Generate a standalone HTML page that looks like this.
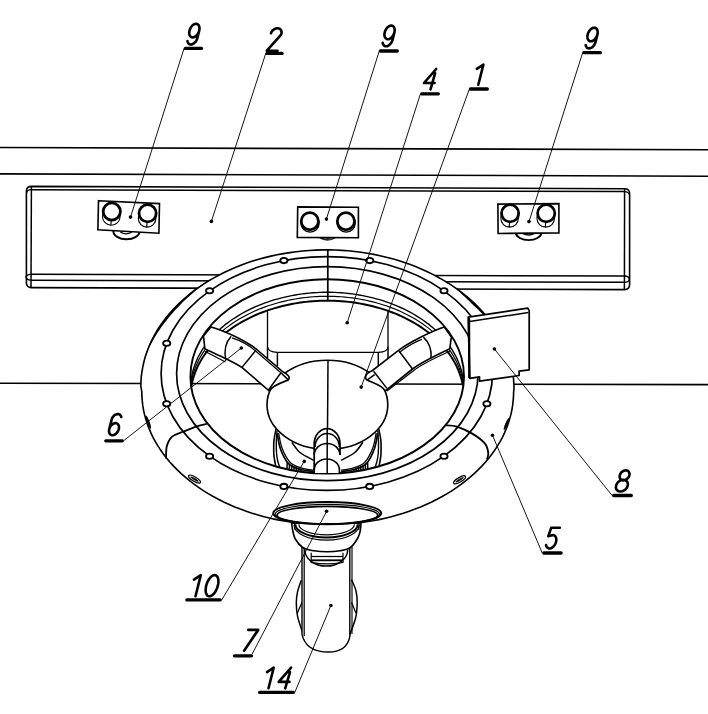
<!DOCTYPE html>
<html><head><meta charset="utf-8"><style>
html,body{margin:0;padding:0;background:#fff;}
svg{display:block;}
</style></head><body>
<svg width="708" height="714" viewBox="0 0 708 714">
<rect width="708" height="714" fill="#fff"/>
<line x1="0.0" y1="147.5" x2="708.0" y2="149.8" stroke="#000" stroke-width="1.61"/>
<line x1="0.0" y1="173.9" x2="708.0" y2="176.2" stroke="#000" stroke-width="1.61"/>
<line x1="0.0" y1="383.3" x2="150.0" y2="383.5" stroke="#000" stroke-width="1.61"/>
<line x1="500.0" y1="384.3" x2="708.0" y2="384.6" stroke="#000" stroke-width="1.61"/>
<path d="M31.4,186.4 L624.6,188.7 Q629.6,188.7 629.6,193.7 L629.6,284.6 Q629.6,289.6 624.6,289.6 L31.4,287.6 Q26.4,287.6 26.4,282.6 L26.4,191.4 Q26.4,186.4 31.4,186.4Z" fill="#fff" stroke="#000" stroke-width="1.61" />
<line x1="31.4" y1="186.4" x2="31.0" y2="287.6" stroke="#000" stroke-width="1.49"/>
<line x1="624.6" y1="188.6" x2="624.4" y2="289.6" stroke="#000" stroke-width="1.49"/>
<line x1="31.4" y1="189.7" x2="624.6" y2="191.6" stroke="#000" stroke-width="1.49"/>
<line x1="31.2" y1="274.2" x2="624.5" y2="276.0" stroke="#000" stroke-width="1.49"/>
<line x1="31.2" y1="280.2" x2="624.5" y2="282.3" stroke="#000" stroke-width="1.49"/>
<path d="M624.5,276.0 Q629.3,276.3 629.3,279.2 Q629.0,282.3 624.5,282.3" fill="none" stroke="#000" stroke-width="1.38" />
<path d="M31.2,274.2 Q26.0,274.6 26.0,277.2 Q26.4,280.2 31.2,280.2" fill="none" stroke="#000" stroke-width="1.38" />
<path d="M31.4,189.7 Q27.5,189.6 26.6,192.5" fill="none" stroke="#000" stroke-width="1.15" />
<path d="M624.6,191.6 Q628.5,191.8 629.4,194.5" fill="none" stroke="#000" stroke-width="1.15" />
<path d="M113.3,231.0 A13.2,8.3 0 0 0 139.7,231.0" fill="#fff" stroke="#000" stroke-width="1.9"/>
<path d="M120.3,232.0 Q126.1,235.6 131.8,232.0" fill="none" stroke="#000" stroke-width="1.3"/>
<path d="M515.6,232.5 A13.1,8.4 0 0 0 541.7,232.5" fill="#fff" stroke="#000" stroke-width="1.9"/>
<path d="M522.7,233.5 Q528.7,236.5 534.7,233.5" fill="none" stroke="#000" stroke-width="1.3"/>
<path d="M318.7,237.3 Q327.5,243.2 336.2,237.3 Z" fill="#000" stroke="#000" stroke-width="0.8"/>
<path d="M323.5,238.4 Q328,239.6 332.4,238.4" fill="none" stroke="#888" stroke-width="0.8"/>
<path d="M98.5,200.7 L159.5,203.6 L158.9,233.2 L97.9,229.8Z" fill="#fff" stroke="#000" stroke-width="1.61" />
<circle cx="111.3" cy="216.5" r="8.8" fill="none" stroke="#000" stroke-width="1.1"/>
<line x1="111.3" y1="220.0" x2="110.9" y2="225.3" stroke="#000" stroke-width="1.15"/>
<circle cx="111.8" cy="211.5" r="8.6" fill="#fff" stroke="#000" stroke-width="2.8"/>
<circle cx="147.1" cy="218.3" r="8.8" fill="none" stroke="#000" stroke-width="1.1"/>
<line x1="147.1" y1="221.8" x2="146.7" y2="227.1" stroke="#000" stroke-width="1.15"/>
<circle cx="147.6" cy="213.3" r="8.6" fill="#fff" stroke="#000" stroke-width="2.8"/>
<path d="M297.7,206.9 L358.4,207.2 L358.4,237.7 L297.3,237.4Z" fill="#fff" stroke="#000" stroke-width="1.61" />
<circle cx="310.1" cy="223.2" r="9.0" fill="none" stroke="#000" stroke-width="1.3"/>
<circle cx="309.8" cy="221.2" r="8.6" fill="#fff" stroke="#000" stroke-width="2.8"/>
<circle cx="346.2" cy="223.2" r="9.0" fill="none" stroke="#000" stroke-width="1.3"/>
<circle cx="345.9" cy="221.2" r="8.6" fill="#fff" stroke="#000" stroke-width="2.8"/>
<path d="M497.9,204.1 L558.9,203.6 L558.9,232.9 L498.1,233.5Z" fill="#fff" stroke="#000" stroke-width="1.61" />
<circle cx="509.6" cy="218.3" r="8.8" fill="none" stroke="#000" stroke-width="1.1"/>
<line x1="509.6" y1="221.8" x2="509.2" y2="227.1" stroke="#000" stroke-width="1.15"/>
<circle cx="510.1" cy="213.3" r="8.6" fill="#fff" stroke="#000" stroke-width="2.8"/>
<circle cx="545.7" cy="218.3" r="8.8" fill="none" stroke="#000" stroke-width="1.1"/>
<line x1="545.7" y1="221.8" x2="545.3" y2="227.1" stroke="#000" stroke-width="1.15"/>
<circle cx="546.2" cy="213.3" r="8.6" fill="#fff" stroke="#000" stroke-width="2.8"/>
<line x1="150.0" y1="383.5" x2="500.0" y2="384.3" stroke="#000" stroke-width="1.61"/>
<path d="M267.5,290 L267.5,346.8 Q268,352.3 277.4,352.3 L378.3,352.3 Q387.8,352.3 388,346.8 L388,290 Z" fill="#fff" stroke="#000" stroke-width="1.3"/>
<line x1="267.5" y1="346.8" x2="267.5" y2="358.0" stroke="#000" stroke-width="1.49"/>
<line x1="388.0" y1="346.8" x2="388.0" y2="358.0" stroke="#000" stroke-width="1.49"/>
<line x1="277.4" y1="352.3" x2="277.4" y2="366.0" stroke="#000" stroke-width="1.49"/>
<line x1="378.3" y1="352.3" x2="378.3" y2="366.0" stroke="#000" stroke-width="1.49"/>
<path d="M276.0,429.2 C275.7,431.0 274.4,435.9 274.0,440.0 C273.6,444.1 273.7,450.3 273.8,453.6 C273.9,456.9 274.2,457.7 274.6,460.0 C275.0,462.3 275.7,466.2 275.9,467.5" fill="none" stroke="#000" stroke-width="1.61" />
<path d="M378.8,429.2 C379.1,431.0 380.4,435.9 380.8,440.0 C381.2,444.1 381.1,450.3 381.0,453.6 C380.9,456.9 380.5,457.7 380.2,460.0 C379.8,462.3 379.1,466.2 378.9,467.5" fill="none" stroke="#000" stroke-width="1.61" />
<path d="M277.0,431.0 C276.9,432.8 276.4,438.2 276.3,442.0 C276.2,445.8 276.3,450.7 276.6,454.0 C276.9,457.3 277.4,459.6 278.0,462.0 C278.6,464.4 279.8,467.4 280.1,468.5" fill="none" stroke="#000" stroke-width="1.38" />
<path d="M377.8,431.0 C377.9,432.8 378.4,438.2 378.5,442.0 C378.6,445.8 378.5,450.7 378.2,454.0 C377.9,457.3 377.4,459.6 376.8,462.0 C376.2,464.4 375.0,467.4 374.7,468.5" fill="none" stroke="#000" stroke-width="1.38" />
<path d="M277.2,433.4 C277.8,436.0 278.6,443.9 280.5,449.0 C282.4,454.1 285.2,460.3 288.5,463.7 C291.8,467.1 295.8,468.0 300.0,469.3 C304.2,470.6 311.4,471.2 313.7,471.6" fill="none" stroke="#000" stroke-width="1.72" />
<path d="M377.6,433.4 C377.0,436.0 376.2,443.9 374.3,449.0 C372.4,454.1 369.5,460.3 366.3,463.7 C363.0,467.1 359.0,468.0 354.8,469.3 C350.6,470.6 343.4,471.2 341.1,471.6" fill="none" stroke="#000" stroke-width="1.72" />
<path d="M278.6,433.0 C279.2,435.5 280.1,443.1 282.0,448.0 C283.9,452.9 286.8,458.9 290.0,462.2 C293.2,465.5 297.1,466.5 301.0,467.8 C304.9,469.1 311.6,469.8 313.7,470.2" fill="none" stroke="#000" stroke-width="1.26" />
<path d="M376.2,433.0 C375.6,435.5 374.7,443.1 372.8,448.0 C370.9,452.9 368.0,458.9 364.8,462.2 C361.6,465.5 357.7,466.5 353.8,467.8 C349.8,469.1 343.2,469.8 341.1,470.2" fill="none" stroke="#000" stroke-width="1.26" />
<path d="M291.9,442.3 C293.2,444.0 296.4,449.5 300.0,452.5 C303.6,455.5 311.4,459.0 313.7,460.3" fill="none" stroke="#000" stroke-width="1.61" />
<path d="M362.9,442.3 C361.5,444.0 358.4,449.5 354.8,452.5 C351.2,455.5 343.4,459.0 341.1,460.3" fill="none" stroke="#000" stroke-width="1.61" />
<line x1="287.2" y1="462.6" x2="286.9" y2="473.0" stroke="#000" stroke-width="1.49"/>
<line x1="367.6" y1="462.6" x2="367.9" y2="473.0" stroke="#000" stroke-width="1.49"/>
<line x1="289.5" y1="463.7" x2="289.2" y2="473.0" stroke="#000" stroke-width="1.49"/>
<line x1="365.3" y1="463.7" x2="365.6" y2="473.0" stroke="#000" stroke-width="1.49"/>
<line x1="291.8" y1="464.8" x2="291.5" y2="473.0" stroke="#000" stroke-width="1.49"/>
<line x1="363.0" y1="464.8" x2="363.3" y2="473.0" stroke="#000" stroke-width="1.49"/>
<line x1="294.1" y1="465.9" x2="293.8" y2="473.0" stroke="#000" stroke-width="1.49"/>
<line x1="360.7" y1="465.9" x2="361.0" y2="473.0" stroke="#000" stroke-width="1.49"/>
<line x1="296.4" y1="467.0" x2="296.1" y2="473.0" stroke="#000" stroke-width="1.49"/>
<line x1="358.4" y1="467.0" x2="358.7" y2="473.0" stroke="#000" stroke-width="1.49"/>
<line x1="298.7" y1="468.2" x2="298.4" y2="473.0" stroke="#000" stroke-width="1.49"/>
<line x1="356.1" y1="468.2" x2="356.4" y2="473.0" stroke="#000" stroke-width="1.49"/>
<line x1="301.0" y1="469.3" x2="300.7" y2="473.0" stroke="#000" stroke-width="1.49"/>
<line x1="353.8" y1="469.3" x2="354.1" y2="473.0" stroke="#000" stroke-width="1.49"/>
<path d="M140.8,385.9 L141.0,381.1 L141.3,376.3 L142.0,371.5 L142.8,366.8 L143.9,362.0 L145.1,357.3 L146.7,352.6 L148.4,348.0 L150.3,343.4 L152.5,338.9 L154.9,334.4 L157.4,330.0 L160.2,325.7 L163.2,321.5 L166.4,317.3 L169.8,313.2 L173.4,309.2 L177.2,305.3 L181.1,301.5 L185.3,297.8 L189.6,294.2 L194.0,290.7 L198.7,287.4 L203.5,284.1 L208.4,281.0 L213.5,278.1 L218.7,275.2 L224.1,272.5 L229.6,269.9 L235.2,267.5 L240.9,265.2 L246.7,263.1 L252.6,261.1 L258.7,259.3 L264.8,257.6 L270.9,256.1 L277.2,254.8 L283.5,253.6 L289.8,252.6 L296.2,251.7 L302.7,251.0 L309.1,250.5 L315.6,250.1 L322.1,249.9 L328.6,249.9 L335.2,250.0 L341.7,250.4 L348.1,250.8 L354.6,251.5 L361.0,252.3 L367.4,253.3 L373.8,254.4 L380.0,255.7 L386.2,257.2 L392.4,258.8 L398.5,260.6 L404.4,262.5 L410.3,264.6 L416.1,266.8 L421.8,269.2 L427.3,271.7 L432.8,274.4 L438.1,277.2 L443.3,280.1 L448.3,283.2 L453.2,286.4 L457.9,289.7 L462.5,293.2 L466.9,296.7 L471.1,300.4 L475.2,304.2 L479.1,308.0 L482.8,312.0 L486.3,316.1 L489.6,320.2 L492.7,324.5 L495.7,328.8 L498.4,333.1 L500.9,337.6 L503.2,342.1 L505.2,346.7 L507.1,351.3 L508.8,355.9 L510.2,360.6 L511.4,365.4 L512.4,370.1 L513.1,374.9 L513.6,379.7 L513.9,384.5 L514.0,389.3 L513.6,391.8 L513.5,396.4 L513.1,401.1 L512.6,405.7 L511.8,410.3 L510.8,414.9 L509.5,419.4 L508.1,424.0 L506.4,428.4 L504.5,432.9 L502.4,437.3 L500.1,441.6 L497.5,445.9 L494.8,450.1 L491.8,454.2 L488.7,458.2 L485.4,462.2 L481.8,466.1 L478.1,469.9 L474.2,473.6 L470.1,477.2 L465.9,480.7 L461.4,484.1 L456.8,487.4 L452.1,490.6 L447.2,493.6 L442.2,496.5 L437.0,499.3 L431.7,502.0 L426.2,504.5 L420.6,506.9 L415.0,509.1 L409.2,511.2 L403.3,513.2 L397.3,515.0 L391.3,516.7 L385.1,518.2 L378.9,519.6 L372.7,520.8 L366.4,521.8 L360.0,522.7 L353.6,523.4 L347.1,524.0 L340.7,524.4 L334.2,524.6 L327.7,524.7 L321.2,524.6 L314.7,524.4 L308.3,524.0 L301.8,523.4 L295.4,522.7 L289.0,521.8 L282.7,520.8 L276.5,519.6 L270.3,518.2 L264.1,516.7 L258.1,515.0 L252.1,513.2 L246.2,511.2 L240.4,509.1 L234.8,506.9 L229.2,504.5 L223.7,502.0 L218.4,499.3 L213.2,496.5 L208.2,493.6 L203.3,490.6 L198.6,487.4 L194.0,484.1 L189.5,480.7 L185.3,477.2 L181.2,473.6 L177.3,469.9 L173.6,466.1 L170.0,462.2 L166.7,458.2 L163.6,454.2 L160.6,450.1 L157.9,445.9 L155.3,441.6 L153.0,437.3 L150.9,432.9 L149.0,428.4 L147.3,424.0 L145.9,419.4 L144.6,414.9 L143.6,410.3 L142.8,405.7 L142.3,401.1 L141.9,396.4 L141.8,391.8Z M459.9,400.0 L459.1,402.3 L458.1,404.6 L457.1,406.8 L456.1,409.0 L455.0,411.2 L453.8,413.3 L452.5,415.4 L451.2,417.4 L449.9,419.4 L448.5,421.4 L447.0,423.3 L445.6,425.2 L444.0,427.0 L442.5,428.7 L440.9,430.5 L439.3,432.1 L437.7,433.8 L436.0,435.3 L434.3,436.9 L432.6,438.4 L430.9,439.8 L429.2,441.2 L427.4,442.6 L425.7,443.9 L424.0,445.1 L422.2,446.3 L420.5,447.5 L418.7,448.7 L417.0,449.8 L415.2,450.8 L413.5,451.8 L411.7,452.8 L410.0,453.8 L408.3,454.7 L406.6,455.6 L404.9,456.4 L403.2,457.2 L401.5,458.0 L399.8,458.8 L398.1,459.5 L396.5,460.2 L394.8,460.9 L393.2,461.5 L391.6,462.2 L390.0,462.8 L388.4,463.3 L386.8,463.9 L385.2,464.4 L383.7,464.9 L382.1,465.4 L380.6,465.9 L379.0,466.4 L377.5,466.8 L376.0,467.2 L374.5,467.6 L373.1,468.0 L371.6,468.3 L370.1,468.7 L368.7,469.0 L367.2,469.3 L365.8,469.7 L364.4,469.9 L363.0,470.2 L361.6,470.5 L360.2,470.7 L358.8,471.0 L357.4,471.2 L356.1,471.4 L354.7,471.6 L353.3,471.8 L352.0,472.0 L350.6,472.2 L349.3,472.3 L348.0,472.5 L346.7,472.6 L345.3,472.7 L344.0,472.9 L342.7,473.0 L341.4,473.1 L340.1,473.2 L338.8,473.3 L337.5,473.3 L336.2,473.4 L334.9,473.4 L333.6,473.5 L332.3,473.5 L331.1,473.6 L329.8,473.6 L328.5,473.6 L327.2,473.6 L325.9,473.6 L324.6,473.6 L323.3,473.6 L322.1,473.5 L320.8,473.5 L319.5,473.4 L318.2,473.4 L316.9,473.3 L315.6,473.3 L314.3,473.2 L313.0,473.1 L311.7,473.0 L310.4,472.9 L309.1,472.7 L307.7,472.6 L306.4,472.5 L305.1,472.3 L303.8,472.2 L302.4,472.0 L301.1,471.8 L299.7,471.6 L298.3,471.4 L297.0,471.2 L295.6,471.0 L294.2,470.7 L292.8,470.5 L291.4,470.2 L290.0,469.9 L288.6,469.7 L287.2,469.3 L285.7,469.0 L284.3,468.7 L282.8,468.3 L281.3,468.0 L279.9,467.6 L278.4,467.2 L276.9,466.8 L275.4,466.4 L273.8,465.9 L272.3,465.4 L270.7,464.9 L269.2,464.4 L267.6,463.9 L266.0,463.3 L264.4,462.8 L262.8,462.2 L261.2,461.5 L259.6,460.9 L257.9,460.2 L256.3,459.5 L254.6,458.8 L252.9,458.0 L251.2,457.2 L249.5,456.4 L247.8,455.6 L246.1,454.7 L244.4,453.8 L242.7,452.8 L240.9,451.8 L239.2,450.8 L237.4,449.8 L235.7,448.7 L233.9,447.5 L232.2,446.3 L230.4,445.1 L228.7,443.9 L227.0,442.6 L225.2,441.2 L223.5,439.8 L221.8,438.4 L220.1,436.9 L218.4,435.3 L216.7,433.8 L215.1,432.1 L213.5,430.5 L211.9,428.7 L210.4,427.0 L208.8,425.2 L207.4,423.3 L205.9,421.4 L204.5,419.4 L203.2,417.4 L201.9,415.4 L200.6,413.3 L199.4,411.2 L198.3,409.0 L197.3,406.8 L196.3,404.6 L195.3,402.3 L194.5,400.0 L193.7,397.7 L193.0,395.3 L192.4,392.9 L191.8,390.5 L191.4,388.1 L191.5,385.7 L191.9,383.4 L192.5,381.1 L193.1,378.8 L193.8,376.5 L194.5,374.2 L195.3,372.0 L196.2,369.8 L197.2,367.6 L198.2,365.4 L199.3,363.3 L200.5,361.3 L201.7,359.2 L202.9,357.2 L204.3,355.3 L205.6,353.3 L207.0,351.4 L208.5,349.6 L210.0,347.8 L211.5,346.0 L213.0,344.3 L214.6,342.6 L216.3,341.0 L217.9,339.4 L219.6,337.9 L221.3,336.4 L223.0,334.9 L224.8,333.5 L226.5,332.1 L228.3,330.7 L230.1,329.4 L231.9,328.2 L233.7,326.9 L235.5,325.8 L237.3,324.6 L239.2,323.5 L241.0,322.4 L242.9,321.4 L244.7,320.3 L246.6,319.4 L248.4,318.4 L250.3,317.5 L252.1,316.6 L254.0,315.8 L255.8,315.0 L257.7,314.2 L259.5,313.4 L261.4,312.7 L263.2,312.0 L265.1,311.3 L266.9,310.6 L268.8,310.0 L270.6,309.4 L272.4,308.8 L274.2,308.3 L276.1,307.7 L277.9,307.2 L279.7,306.7 L281.5,306.3 L283.3,305.8 L285.1,305.4 L286.9,305.0 L288.7,304.6 L290.5,304.3 L292.2,303.9 L294.0,303.6 L295.8,303.3 L297.5,303.0 L299.3,302.7 L301.1,302.5 L302.8,302.3 L304.6,302.0 L306.3,301.8 L308.1,301.7 L309.8,301.5 L311.6,301.3 L313.3,301.2 L315.1,301.1 L316.8,301.0 L318.5,300.9 L320.3,300.8 L322.0,300.8 L323.7,300.7 L325.5,300.7 L327.2,300.7 L328.9,300.7 L330.7,300.7 L332.4,300.8 L334.1,300.8 L335.9,300.9 L337.6,301.0 L339.3,301.1 L341.1,301.2 L342.8,301.3 L344.6,301.5 L346.3,301.7 L348.1,301.8 L349.8,302.0 L351.6,302.3 L353.3,302.5 L355.1,302.7 L356.9,303.0 L358.6,303.3 L360.4,303.6 L362.2,303.9 L363.9,304.3 L365.7,304.6 L367.5,305.0 L369.3,305.4 L371.1,305.8 L372.9,306.3 L374.7,306.7 L376.5,307.2 L378.3,307.7 L380.2,308.3 L382.0,308.8 L383.8,309.4 L385.6,310.0 L387.5,310.6 L389.3,311.3 L391.2,312.0 L393.0,312.7 L394.9,313.4 L396.7,314.2 L398.6,315.0 L400.4,315.8 L402.3,316.6 L404.1,317.5 L406.0,318.4 L407.8,319.4 L409.7,320.3 L411.5,321.4 L413.4,322.4 L415.2,323.5 L417.1,324.6 L418.9,325.8 L420.7,326.9 L422.5,328.2 L424.3,329.4 L426.1,330.7 L427.9,332.1 L429.6,333.5 L431.4,334.9 L433.1,336.4 L434.8,337.9 L436.5,339.4 L438.1,341.0 L439.8,342.6 L441.4,344.3 L442.9,346.0 L444.4,347.8 L445.9,349.6 L447.4,351.4 L448.8,353.3 L450.1,355.3 L451.5,357.2 L452.7,359.2 L453.9,361.3 L455.1,363.3 L456.2,365.4 L457.2,367.6 L458.2,369.8 L459.1,372.0 L459.9,374.2 L460.6,376.5 L461.3,378.8 L461.9,381.1 L462.5,383.4 L462.9,385.7 L463.0,388.1 L462.6,390.5 L462.0,392.9 L461.4,395.3 L460.7,397.7Z" fill="#fff" fill-rule="evenodd" stroke="none"/>
<path d="M140.8,385.9 L141.0,381.1 L141.3,376.3 L142.0,371.5 L142.8,366.8 L143.9,362.0 L145.1,357.3 L146.7,352.6 L148.4,348.0 L150.3,343.4 L152.5,338.9 L154.9,334.4 L157.4,330.0 L160.2,325.7 L163.2,321.5 L166.4,317.3 L169.8,313.2 L173.4,309.2 L177.2,305.3 L181.1,301.5 L185.3,297.8 L189.6,294.2 L194.0,290.7 L198.7,287.4 L203.5,284.1 L208.4,281.0 L213.5,278.1 L218.7,275.2 L224.1,272.5 L229.6,269.9 L235.2,267.5 L240.9,265.2 L246.7,263.1 L252.6,261.1 L258.7,259.3 L264.8,257.6 L270.9,256.1 L277.2,254.8 L283.5,253.6 L289.8,252.6 L296.2,251.7 L302.7,251.0 L309.1,250.5 L315.6,250.1 L322.1,249.9 L328.6,249.9 L335.2,250.0 L341.7,250.4 L348.1,250.8 L354.6,251.5 L361.0,252.3 L367.4,253.3 L373.8,254.4 L380.0,255.7 L386.2,257.2 L392.4,258.8 L398.5,260.6 L404.4,262.5 L410.3,264.6 L416.1,266.8 L421.8,269.2 L427.3,271.7 L432.8,274.4 L438.1,277.2 L443.3,280.1 L448.3,283.2 L453.2,286.4 L457.9,289.7 L462.5,293.2 L466.9,296.7 L471.1,300.4 L475.2,304.2 L479.1,308.0 L482.8,312.0 L486.3,316.1 L489.6,320.2 L492.7,324.5 L495.7,328.8 L498.4,333.1 L500.9,337.6 L503.2,342.1 L505.2,346.7 L507.1,351.3 L508.8,355.9 L510.2,360.6 L511.4,365.4 L512.4,370.1 L513.1,374.9 L513.6,379.7 L513.9,384.5 L514.0,389.3 L513.6,391.8 L513.5,396.4 L513.1,401.1 L512.6,405.7 L511.8,410.3 L510.8,414.9 L509.5,419.4 L508.1,424.0 L506.4,428.4 L504.5,432.9 L502.4,437.3 L500.1,441.6 L497.5,445.9 L494.8,450.1 L491.8,454.2 L488.7,458.2 L485.4,462.2 L481.8,466.1 L478.1,469.9 L474.2,473.6 L470.1,477.2 L465.9,480.7 L461.4,484.1 L456.8,487.4 L452.1,490.6 L447.2,493.6 L442.2,496.5 L437.0,499.3 L431.7,502.0 L426.2,504.5 L420.6,506.9 L415.0,509.1 L409.2,511.2 L403.3,513.2 L397.3,515.0 L391.3,516.7 L385.1,518.2 L378.9,519.6 L372.7,520.8 L366.4,521.8 L360.0,522.7 L353.6,523.4 L347.1,524.0 L340.7,524.4 L334.2,524.6 L327.7,524.7 L321.2,524.6 L314.7,524.4 L308.3,524.0 L301.8,523.4 L295.4,522.7 L289.0,521.8 L282.7,520.8 L276.5,519.6 L270.3,518.2 L264.1,516.7 L258.1,515.0 L252.1,513.2 L246.2,511.2 L240.4,509.1 L234.8,506.9 L229.2,504.5 L223.7,502.0 L218.4,499.3 L213.2,496.5 L208.2,493.6 L203.3,490.6 L198.6,487.4 L194.0,484.1 L189.5,480.7 L185.3,477.2 L181.2,473.6 L177.3,469.9 L173.6,466.1 L170.0,462.2 L166.7,458.2 L163.6,454.2 L160.6,450.1 L157.9,445.9 L155.3,441.6 L153.0,437.3 L150.9,432.9 L149.0,428.4 L147.3,424.0 L145.9,419.4 L144.6,414.9 L143.6,410.3 L142.8,405.7 L142.3,401.1 L141.9,396.4 L141.8,391.8Z" fill="none" stroke="#000" stroke-width="1.61" />
<path d="M145.6,354.9 L146.3,352.7 L147.1,350.6 L147.9,348.5 L148.8,346.3 L149.7,344.2 L150.6,342.1 L151.6,340.0 L152.7,337.9 L153.8,335.8 L154.9,333.8 L156.1,331.7 L157.3,329.7 L158.6,327.7 L159.9,325.7 L161.3,323.7 L162.7,321.7 L164.1,319.8 L165.6,317.9 L167.1,315.9 L168.7,314.1 L170.3,312.2 L172.0,310.3 L173.7,308.5 L175.4,306.7 L177.2,304.9 L179.0,303.1 L180.8,301.4 L182.7,299.6 L184.7,297.9 L186.6,296.2 L188.6,294.6 L190.7,292.9 L192.8,291.3 L194.9,289.8 L197.0,288.2 L199.2,286.7 L201.4,285.2 L203.6,283.7 L205.9,282.2 L208.2,280.8 L208.4,281.0 L206.2,282.6 L204.0,284.1 L201.9,285.7 L199.8,287.3 L197.7,289.0 L195.7,290.6 L193.7,292.3 L191.8,294.0 L189.8,295.7 L187.9,297.4 L186.1,299.1 L184.2,300.8 L182.4,302.6 L180.6,304.4 L178.9,306.2 L177.2,308.0 L175.5,309.8 L173.9,311.6 L172.2,313.4 L170.7,315.3 L169.1,317.1 L167.6,319.0 L166.1,320.9 L164.6,322.8 L163.2,324.7 L161.8,326.6 L160.4,328.6 L159.1,330.5 L157.7,332.5 L156.5,334.4 L155.2,336.4 L154.0,338.4 L152.9,340.5 L151.8,342.5 L150.7,344.5 L149.6,346.6 L148.6,348.7 L147.7,350.8 L146.7,352.9 L145.9,355.0Z" fill="#000" stroke="none"/>
<path d="M453.4,286.2 L454.6,287.0 L455.8,287.8 L457.0,288.7 L458.1,289.5 L459.3,290.4 L460.4,291.2 L461.6,292.1 L462.7,293.0 L463.8,293.8 L464.9,294.7 L466.0,295.6 L467.1,296.5 L468.2,297.4 L469.3,298.3 L470.3,299.3 L471.4,300.2 L472.4,301.1 L473.4,302.1 L474.4,303.0 L475.4,304.0 L476.4,304.9 L477.4,305.9 L478.4,306.9 L479.3,307.9 L480.3,308.8 L481.2,309.8 L482.1,310.8 L483.0,311.8 L483.9,312.9 L484.8,313.9 L485.7,314.9 L486.6,315.9 L487.4,316.9 L488.2,318.0 L489.1,319.0 L489.9,320.1 L490.7,321.1 L491.5,322.2 L492.2,323.2 L493.0,324.3 L492.7,324.5 L491.8,323.5 L490.9,322.5 L490.0,321.5 L489.1,320.5 L488.1,319.6 L487.2,318.6 L486.3,317.6 L485.3,316.7 L484.3,315.7 L483.4,314.8 L482.4,313.8 L481.4,312.9 L480.5,312.0 L479.5,311.0 L478.5,310.1 L477.5,309.1 L476.6,308.2 L475.6,307.3 L474.6,306.3 L473.6,305.4 L472.6,304.4 L471.6,303.5 L470.7,302.5 L469.7,301.6 L468.7,300.6 L467.7,299.7 L466.7,298.7 L465.7,297.8 L464.7,296.8 L463.7,295.9 L462.7,294.9 L461.6,294.0 L460.6,293.0 L459.6,292.1 L458.5,291.1 L457.5,290.2 L456.4,289.2 L455.4,288.3 L454.3,287.3 L453.2,286.4Z" fill="#000" stroke="none"/>
<ellipse cx="326.8" cy="373.5" rx="165.7" ry="116.9" fill="none" stroke="#000" stroke-width="1.67"/>
<ellipse cx="327.3" cy="373.6" rx="150.7" ry="107.0" fill="none" stroke="#000" stroke-width="1.67"/>
<ellipse cx="327.2" cy="376.4" rx="136.8" ry="97.2" fill="none" stroke="#000" stroke-width="1.90"/>
<clipPath id="inw"><path d="M463.4,376.4 L463.2,381.5 L462.7,386.5 L461.7,391.6 L460.4,396.5 L458.8,401.4 L456.7,406.3 L454.4,411.1 L451.6,415.7 L448.6,420.3 L445.2,424.7 L441.4,429.0 L437.4,433.2 L433.0,437.2 L428.4,441.1 L423.5,444.7 L418.3,448.2 L412.9,451.5 L407.3,454.6 L401.4,457.4 L395.3,460.1 L389.0,462.5 L382.6,464.7 L376.0,466.6 L369.3,468.3 L362.5,469.7 L355.5,470.9 L348.5,471.8 L341.4,472.5 L334.3,472.9 L327.2,473.0 L320.1,472.9 L313.0,472.5 L305.9,471.8 L298.9,470.9 L291.9,469.7 L285.1,468.3 L278.4,466.6 L271.8,464.7 L265.4,462.5 L259.1,460.1 L253.0,457.4 L247.1,454.6 L241.5,451.5 L236.1,448.2 L230.9,444.7 L226.0,441.1 L221.4,437.2 L217.0,433.2 L213.0,429.0 L209.2,424.7 L205.8,420.3 L202.8,415.7 L200.0,411.1 L197.7,406.3 L195.6,401.4 L194.0,396.5 L192.7,391.6 L191.7,386.5 L191.2,381.5 L191.0,376.4 L191.2,371.4 L191.7,366.4 L192.7,361.3 L194.0,356.4 L195.6,351.5 L197.7,346.6 L200.0,341.8 L202.8,337.2 L205.8,332.6 L209.2,328.2 L213.0,323.9 L217.0,319.7 L221.4,315.7 L226.0,311.8 L230.9,308.2 L236.1,304.7 L241.5,301.4 L247.1,298.3 L253.0,295.5 L259.1,292.8 L265.4,290.4 L271.8,288.2 L278.4,286.3 L285.1,284.6 L291.9,283.2 L298.9,282.0 L305.9,281.1 L313.0,280.4 L320.1,280.0 L327.2,279.9 L334.3,280.0 L341.4,280.4 L348.5,281.1 L355.5,282.0 L362.5,283.2 L369.3,284.6 L376.0,286.3 L382.6,288.2 L389.0,290.4 L395.3,292.8 L401.4,295.5 L407.3,298.3 L412.9,301.4 L418.3,304.7 L423.5,308.2 L428.4,311.8 L433.0,315.7 L437.4,319.7 L441.4,323.9 L445.2,328.2 L448.6,332.6 L451.6,337.2 L454.4,341.8 L456.7,346.6 L458.8,351.5 L460.4,356.4 L461.7,361.3 L462.7,366.4 L463.2,371.4 L463.4,376.4Z"/></clipPath>
<g clip-path="url(#inw)">
<path d="M190.4,389.4 L190.4,386.9 L190.6,384.4 L190.8,381.8 L191.1,379.3 L191.6,376.8 L192.1,374.3 L192.7,371.7 L193.4,369.3 L194.2,366.8 L195.1,364.3 L196.0,361.9 L197.1,359.4 L198.2,357.0 L199.5,354.6 L200.8,352.3 L202.2,349.9 L203.7,347.6 L205.3,345.3 L207.0,343.1 L208.7,340.9 L210.6,338.7 L212.5,336.5 L214.5,334.4 L216.5,332.3 L218.7,330.3 L220.9,328.3 L223.2,326.4 L225.5,324.4 L228.0,322.6 L230.5,320.8 L233.0,319.0 L235.7,317.3 L238.4,315.6 L241.1,314.0 L243.9,312.4 L246.8,310.9 L249.7,309.4 L252.7,308.0 L255.7,306.6 L258.8,305.3 L261.9,304.1 L265.1,302.9 L268.3,301.8 L271.6,300.7 L274.8,299.7 L278.2,298.8 L281.5,297.9 L284.9,297.1 L288.3,296.3 L291.8,295.6 L295.3,295.0 L298.8,294.4 L302.3,293.9 L305.8,293.5 L309.3,293.1 L312.9,292.8 L316.5,292.6 L320.0,292.4 L323.6,292.3 L327.2,292.3 L330.8,292.3 L334.4,292.4 L337.9,292.6 L341.5,292.8 L345.1,293.1 L348.6,293.5 L352.1,293.9 L355.6,294.4 L359.1,295.0 L362.6,295.6 L366.1,296.3 L369.5,297.1 L372.9,297.9 L376.2,298.8 L379.6,299.7 L382.8,300.7 L386.1,301.8 L389.3,302.9 L392.5,304.1 L395.6,305.3 L398.7,306.6 L401.7,308.0 L404.7,309.4 L407.6,310.9 L410.5,312.4 L413.3,314.0 L416.0,315.6 L418.7,317.3 L421.4,319.0 L423.9,320.8 L426.4,322.6 L428.9,324.4 L431.2,326.4 L433.5,328.3 L435.7,330.3 L437.9,332.3 L439.9,334.4 L441.9,336.5 L443.8,338.7 L445.7,340.9 L447.4,343.1 L449.1,345.3 L450.7,347.6 L452.2,349.9 L453.6,352.3 L454.9,354.6 L456.2,357.0 L457.3,359.4 L458.4,361.9 L459.3,364.3 L460.2,366.8 L461.0,369.3 L461.7,371.7 L462.3,374.3 L462.8,376.8 L463.3,379.3 L463.6,381.8 L463.8,384.4 L464.0,386.9 L464.0,389.4" fill="none" stroke="#000" stroke-width="1.38" />
<path d="M190.4,393.4 L190.4,390.9 L190.6,388.4 L190.8,385.8 L191.1,383.3 L191.6,380.8 L192.1,378.3 L192.7,375.7 L193.4,373.3 L194.2,370.8 L195.1,368.3 L196.0,365.9 L197.1,363.4 L198.2,361.0 L199.5,358.6 L200.8,356.3 L202.2,353.9 L203.7,351.6 L205.3,349.3 L207.0,347.1 L208.7,344.9 L210.6,342.7 L212.5,340.5 L214.5,338.4 L216.5,336.3 L218.7,334.3 L220.9,332.3 L223.2,330.4 L225.5,328.4 L228.0,326.6 L230.5,324.8 L233.0,323.0 L235.7,321.3 L238.4,319.6 L241.1,318.0 L243.9,316.4 L246.8,314.9 L249.7,313.4 L252.7,312.0 L255.7,310.6 L258.8,309.3 L261.9,308.1 L265.1,306.9 L268.3,305.8 L271.6,304.7 L274.8,303.7 L278.2,302.8 L281.5,301.9 L284.9,301.1 L288.3,300.3 L291.8,299.6 L295.3,299.0 L298.8,298.4 L302.3,297.9 L305.8,297.5 L309.3,297.1 L312.9,296.8 L316.5,296.6 L320.0,296.4 L323.6,296.3 L327.2,296.3 L330.8,296.3 L334.4,296.4 L337.9,296.6 L341.5,296.8 L345.1,297.1 L348.6,297.5 L352.1,297.9 L355.6,298.4 L359.1,299.0 L362.6,299.6 L366.1,300.3 L369.5,301.1 L372.9,301.9 L376.2,302.8 L379.6,303.7 L382.8,304.7 L386.1,305.8 L389.3,306.9 L392.5,308.1 L395.6,309.3 L398.7,310.6 L401.7,312.0 L404.7,313.4 L407.6,314.9 L410.5,316.4 L413.3,318.0 L416.0,319.6 L418.7,321.3 L421.4,323.0 L423.9,324.8 L426.4,326.6 L428.9,328.4 L431.2,330.4 L433.5,332.3 L435.7,334.3 L437.9,336.3 L439.9,338.4 L441.9,340.5 L443.8,342.7 L445.7,344.9 L447.4,347.1 L449.1,349.3 L450.7,351.6 L452.2,353.9 L453.6,356.3 L454.9,358.6 L456.2,361.0 L457.3,363.4 L458.4,365.9 L459.3,368.3 L460.2,370.8 L461.0,373.3 L461.7,375.7 L462.3,378.3 L462.8,380.8 L463.3,383.3 L463.6,385.8 L463.8,388.4 L464.0,390.9 L464.0,393.4" fill="none" stroke="#000" stroke-width="1.15" />
<path d="M190.4,397.8 L190.4,395.3 L190.6,392.8 L190.8,390.2 L191.1,387.7 L191.6,385.2 L192.1,382.7 L192.7,380.1 L193.4,377.7 L194.2,375.2 L195.1,372.7 L196.0,370.3 L197.1,367.8 L198.2,365.4 L199.5,363.0 L200.8,360.7 L202.2,358.3 L203.7,356.0 L205.3,353.7 L207.0,351.5 L208.7,349.3 L210.6,347.1 L212.5,344.9 L214.5,342.8 L216.5,340.7 L218.7,338.7 L220.9,336.7 L223.2,334.8 L225.5,332.8 L228.0,331.0 L230.5,329.2 L233.0,327.4 L235.7,325.7 L238.4,324.0 L241.1,322.4 L243.9,320.8 L246.8,319.3 L249.7,317.8 L252.7,316.4 L255.7,315.0 L258.8,313.7 L261.9,312.5 L265.1,311.3 L268.3,310.2 L271.6,309.1 L274.8,308.1 L278.2,307.2 L281.5,306.3 L284.9,305.5 L288.3,304.7 L291.8,304.0 L295.3,303.4 L298.8,302.8 L302.3,302.3 L305.8,301.9 L309.3,301.5 L312.9,301.2 L316.5,301.0 L320.0,300.8 L323.6,300.7 L327.2,300.7 L330.8,300.7 L334.4,300.8 L337.9,301.0 L341.5,301.2 L345.1,301.5 L348.6,301.9 L352.1,302.3 L355.6,302.8 L359.1,303.4 L362.6,304.0 L366.1,304.7 L369.5,305.5 L372.9,306.3 L376.2,307.2 L379.6,308.1 L382.8,309.1 L386.1,310.2 L389.3,311.3 L392.5,312.5 L395.6,313.7 L398.7,315.0 L401.7,316.4 L404.7,317.8 L407.6,319.3 L410.5,320.8 L413.3,322.4 L416.0,324.0 L418.7,325.7 L421.4,327.4 L423.9,329.2 L426.4,331.0 L428.9,332.8 L431.2,334.8 L433.5,336.7 L435.7,338.7 L437.9,340.7 L439.9,342.8 L441.9,344.9 L443.8,347.1 L445.7,349.3 L447.4,351.5 L449.1,353.7 L450.7,356.0 L452.2,358.3 L453.6,360.7 L454.9,363.0 L456.2,365.4 L457.3,367.8 L458.4,370.3 L459.3,372.7 L460.2,375.2 L461.0,377.7 L461.7,380.1 L462.3,382.7 L462.8,385.2 L463.3,387.7 L463.6,390.2 L463.8,392.8 L464.0,395.3 L464.0,397.8" fill="none" stroke="#000" stroke-width="1.95" />
</g>
<line x1="327.8" y1="249.9" x2="327.8" y2="300.7" stroke="#000" stroke-width="1.72"/>
<ellipse cx="486.9" cy="403.8" rx="3.6" ry="2.65" fill="#fff" stroke="#000" stroke-width="1.8"/>
<ellipse cx="444.0" cy="456.2" rx="3.6" ry="2.65" fill="#fff" stroke="#000" stroke-width="1.8"/>
<ellipse cx="369.7" cy="486.4" rx="3.6" ry="2.65" fill="#fff" stroke="#000" stroke-width="1.8"/>
<ellipse cx="283.9" cy="486.4" rx="3.6" ry="2.65" fill="#fff" stroke="#000" stroke-width="1.8"/>
<ellipse cx="209.6" cy="456.2" rx="3.6" ry="2.65" fill="#fff" stroke="#000" stroke-width="1.8"/>
<ellipse cx="166.7" cy="403.8" rx="3.6" ry="2.65" fill="#fff" stroke="#000" stroke-width="1.8"/>
<ellipse cx="166.7" cy="343.2" rx="3.6" ry="2.65" fill="#fff" stroke="#000" stroke-width="1.8"/>
<ellipse cx="209.6" cy="290.8" rx="3.6" ry="2.65" fill="#fff" stroke="#000" stroke-width="1.8"/>
<ellipse cx="283.9" cy="260.6" rx="3.6" ry="2.65" fill="#fff" stroke="#000" stroke-width="1.8"/>
<ellipse cx="369.7" cy="260.6" rx="3.6" ry="2.65" fill="#fff" stroke="#000" stroke-width="1.8"/>
<ellipse cx="444.0" cy="290.8" rx="3.6" ry="2.65" fill="#fff" stroke="#000" stroke-width="1.8"/>
<path d="M166.1,458.5 C166.2,456.4 165.8,449.9 166.8,446.2 C167.9,442.5 169.6,438.8 172.4,436.4 C175.2,433.9 179.6,433.1 183.6,431.5 C187.6,429.9 192.3,427.9 196.2,426.6 C200.0,425.4 204.9,424.4 206.7,424.0" fill="none" stroke="#000" stroke-width="1.84" />
<path d="M445.6,425.3 C447.5,425.5 452.4,425.2 456.8,426.6 C461.2,428.0 467.5,430.8 472.2,433.6 C476.9,436.4 482.1,440.1 484.8,443.4 C487.5,446.7 488.0,450.5 488.3,453.2 C488.6,455.9 487.1,458.4 486.9,459.5" fill="none" stroke="#000" stroke-width="1.84" />
<ellipse cx="194.5" cy="479.1" rx="6.8" ry="2.2" transform="rotate(30 194.5 479.1)" fill="none" stroke="#000" stroke-width="1.3"/>
<ellipse cx="194.5" cy="479.1" rx="4.4" ry="0.7" transform="rotate(30 194.5 479.1)" fill="#000" stroke="#000" stroke-width="0.6"/>
<ellipse cx="459.6" cy="479.8" rx="6.8" ry="2.2" transform="rotate(-31 459.6 479.8)" fill="none" stroke="#000" stroke-width="1.3"/>
<ellipse cx="459.6" cy="479.8" rx="4.4" ry="0.7" transform="rotate(-31 459.6 479.8)" fill="#000" stroke="#000" stroke-width="0.6"/>
<ellipse cx="148.4" cy="422.2" rx="1.3" ry="7" transform="rotate(-20 148.4 422.2)" fill="#000"/>
<ellipse cx="506.5" cy="424.0" rx="1.3" ry="6.5" transform="rotate(23 506.5 424.0)" fill="#000"/>
<ellipse cx="327.4" cy="404.8" rx="60.4" ry="44.6" fill="#fff" stroke="#000" stroke-width="1.61"/>
<line x1="328.0" y1="360.2" x2="327.2" y2="473.0" stroke="#000" stroke-width="1.49"/>
<path d="M211,327 C222,330 245,340 256.8,349.5 L283.2,372 C287.5,374.3 290.8,377.2 288.3,380.0 C282,382.5 272,385.5 269.3,391.0 L242.8,368.2 C236,363 228,360 204.8,348.7 L203.5,336 Z" fill="#fff" stroke="#000" stroke-width="1.61" />
<path d="M232,337.9 C242,341 250,346 256.8,351.9 L280.9,372.8" fill="none" stroke="#000" stroke-width="1.26" />
<path d="M204.8,351.2 C212,355 219,358.5 225.5,362" fill="none" stroke="#000" stroke-width="1.15" />
<path d="M231.2,336.3 Q223,345 225.7,359.6" fill="none" stroke="#000" stroke-width="1.49" />
<line x1="255.3" y1="351.0" x2="242.0" y2="367.4" stroke="#000" stroke-width="1.49"/>
<line x1="280.9" y1="372.8" x2="268.5" y2="390.0" stroke="#000" stroke-width="1.49"/>
<line x1="280.9" y1="372.8" x2="288.0" y2="379.6" stroke="#000" stroke-width="1.49"/>
<path d="M444.3,327 C432,331 410,342 398.5,350.3 L372.5,370.5 C368.5,372.3 365.3,375 365.5,377.5 C365.8,379 366.5,379.8 367.0,380.0 C373,383 383,385.5 385.3,391.0 L412.5,369 C420,363 428,359 449.8,348.7 L451.3,337.1 Z" fill="#fff" stroke="#000" stroke-width="1.61" />
<path d="M421.8,339.4 C412,343 405,348 399.3,352.6" fill="none" stroke="#000" stroke-width="1.26" />
<path d="M449.8,351.2 C430,360 420,365 412.5,371.5 L386.9,391" fill="none" stroke="#000" stroke-width="1.15" />
<line x1="398.5" y1="350.3" x2="412.5" y2="369.0" stroke="#000" stroke-width="1.49"/>
<path d="M423.4,337.1 Q432,345 431.1,358.1" fill="none" stroke="#000" stroke-width="1.49" />
<line x1="373.6" y1="371.3" x2="386.9" y2="388.4" stroke="#000" stroke-width="1.49"/>
<line x1="374.7" y1="374.6" x2="367.3" y2="379.8" stroke="#000" stroke-width="1.49"/>
<path d="M314.2,473 L314.2,444 A12.9,15.5 0 0 1 340.0,444 L340.0,473 Z" fill="#fff" stroke="none"/>
<path d="M314.2,473 L314.2,444 A12.9,15.5 0 0 1 340.0,444 L340.0,455" fill="none" stroke="#000" stroke-width="1.72" />
<path d="M315.0,447 A12.2,13.5 0 0 1 339.4,447" fill="none" stroke="#000" stroke-width="1.61" />
<path d="M314.2,455 A12.9,11.5 0 0 1 340.0,455" fill="none" stroke="#000" stroke-width="1.61" />
<path d="M314.2,470 A12.6,11 0 0 1 339.4,470 L339.4,473" fill="none" stroke="#000" stroke-width="1.61" />
<line x1="327.2" y1="428.0" x2="327.2" y2="473.0" stroke="#000" stroke-width="1.49"/>
<path d="M301.3,580.1 C300.7,582.1 298.3,588.2 297.5,592.0 C296.7,595.8 296.3,598.7 296.3,602.8 C296.3,606.9 296.5,611.5 297.6,616.7 C298.8,622.0 302.3,631.4 303.2,634.3" fill="none" stroke="#000" stroke-width="1.49" />
<line x1="302.0" y1="602.2" x2="297.2" y2="613.5" stroke="#000" stroke-width="1.26"/>
<path d="M351.5,579.5 C352.2,581.4 355.1,587.1 356.0,591.0 C356.9,594.9 357.3,598.3 357.2,602.8 C357.1,607.3 357.0,612.3 355.6,618.0 C354.2,623.7 350.1,633.7 349.0,636.8" fill="none" stroke="#000" stroke-width="1.49" />
<line x1="351.5" y1="602.2" x2="355.9" y2="612.9" stroke="#000" stroke-width="1.26"/>
<path d="M302,546.5 L302,634.3 C304,643 310,652 328.5,652 C343,652 348,645 349.8,636.8 L349.8,546.5" fill="#fff" stroke="#000" stroke-width="1.4"/>
<line x1="304.2" y1="546.5" x2="304.2" y2="636.0" stroke="#000" stroke-width="1.26"/>
<line x1="352.0" y1="546.5" x2="352.0" y2="634.0" stroke="#000" stroke-width="1.15"/>
<path d="M304.8,549.7 A21.45,16.4 0 0 0 347.7,549.7" fill="none" stroke="#000" stroke-width="1.49" />
<path d="M311.2,552.8 L311.2,562.4 Q327,565.5 343,562.4 L343,552.8" fill="none" stroke="#000" stroke-width="1.2"/>
<line x1="311.2" y1="556.5" x2="343.0" y2="556.5" stroke="#000" stroke-width="1.26"/>
<line x1="311.2" y1="560.3" x2="343.0" y2="560.3" stroke="#000" stroke-width="1.84"/>
<path d="M291.6,523.2 C291.8,524.5 292.2,528.4 292.8,531.0 C293.4,533.6 293.7,536.2 295.3,539.0 C296.9,541.8 299.6,545.5 302.7,547.5 C305.8,549.5 309.9,550.1 314.0,550.8 C318.1,551.5 322.8,551.8 327.1,551.8 C331.4,551.8 336.1,551.5 340.0,550.8 C343.9,550.1 347.4,549.6 350.4,547.5 C353.4,545.4 356.2,540.8 357.8,538.0 C359.4,535.2 359.7,533.5 360.2,531.0 C360.7,528.5 360.9,524.5 361.0,523.2 Z" fill="#fff" stroke="#000" stroke-width="1.61" />
<line x1="294.5" y1="523.5" x2="295.0" y2="530.0" stroke="#000" stroke-width="1.15"/>
<line x1="359.3" y1="523.5" x2="358.8" y2="530.0" stroke="#000" stroke-width="1.15"/>
<path d="M295.3,524.2 A31.25,13.3 0 0 0 357.8,524.2" fill="none" stroke="#000" stroke-width="2.07" />
<path d="M298.8,524.2 A27.8,10.6 0 0 0 354.4,524.2" fill="none" stroke="#000" stroke-width="1.15" />
<path d="M294.0,525.0 A32.6,15.1 0 0 0 359.2,525.0" fill="none" stroke="#000" stroke-width="1.15" />
<ellipse cx="327.2" cy="513.2" rx="54.0" ry="11.2" fill="#fff" stroke="#000" stroke-width="1.84"/>
<ellipse cx="327.3" cy="514.2" rx="52.2" ry="9.8" fill="none" stroke="#000" stroke-width="1.15"/>
<ellipse cx="327.4" cy="515.1" rx="50.4" ry="8.7" fill="none" stroke="#000" stroke-width="1.61"/>
<path d="M468.2,317.1 L527.6,308.1 L529.2,310.5 L529.2,369.8 L519.1,371.2 L519.1,375.5 L479.5,381.1 L479.5,376.9 L469.7,378.3Z" fill="#fff" stroke="#000" stroke-width="1.72" stroke-linejoin="round"/>
<line x1="469.7" y1="321.4" x2="528.3" y2="312.6" stroke="#000" stroke-width="1.49"/>
<line x1="469.0" y1="318.0" x2="469.3" y2="378.0" stroke="#000" stroke-width="2.30"/>
<line x1="184.0" y1="48.6" x2="130.5" y2="217.1" stroke="#000" stroke-width="0.92"/>
<circle cx="130.5" cy="217.1" r="1.8" fill="#000"/>
<line x1="265.8" y1="53.2" x2="211.4" y2="221.4" stroke="#000" stroke-width="0.92"/>
<circle cx="211.4" cy="221.4" r="1.8" fill="#000"/>
<line x1="379.2" y1="51.2" x2="326.4" y2="219.1" stroke="#000" stroke-width="0.92"/>
<circle cx="326.4" cy="219.1" r="1.8" fill="#000"/>
<line x1="420.4" y1="94.0" x2="347.2" y2="322.8" stroke="#000" stroke-width="0.92"/>
<circle cx="347.2" cy="322.8" r="1.8" fill="#000"/>
<line x1="469.3" y1="89.2" x2="361.2" y2="387.1" stroke="#000" stroke-width="0.92"/>
<circle cx="361.2" cy="387.1" r="1.8" fill="#000"/>
<line x1="582.6" y1="52.9" x2="529.0" y2="221.6" stroke="#000" stroke-width="0.92"/>
<circle cx="529.0" cy="221.6" r="1.8" fill="#000"/>
<line x1="123.8" y1="440.6" x2="241.3" y2="348.0" stroke="#000" stroke-width="0.92"/>
<circle cx="241.3" cy="348.0" r="1.8" fill="#000"/>
<line x1="612.2" y1="495.6" x2="494.4" y2="349.0" stroke="#000" stroke-width="0.92"/>
<circle cx="494.4" cy="349.0" r="1.8" fill="#000"/>
<line x1="542.3" y1="553.2" x2="492.5" y2="435.3" stroke="#000" stroke-width="0.92"/>
<circle cx="492.5" cy="435.3" r="1.8" fill="#000"/>
<line x1="221.7" y1="600.0" x2="304.2" y2="461.4" stroke="#000" stroke-width="0.92"/>
<circle cx="304.2" cy="461.4" r="1.8" fill="#000"/>
<line x1="252.0" y1="654.4" x2="326.6" y2="511.3" stroke="#000" stroke-width="0.92"/>
<circle cx="326.6" cy="511.3" r="1.8" fill="#000"/>
<line x1="294.8" y1="692.4" x2="330.9" y2="605.5" stroke="#000" stroke-width="0.92"/>
<circle cx="330.9" cy="605.5" r="1.8" fill="#000"/>
<path d="M199.2,30.6 L198.6,32.4 L197.7,34.0 L196.6,35.4 L195.3,36.5 L194.0,37.2 L192.7,37.4 L191.5,37.2 L190.5,36.5 L189.7,35.4 L189.3,34.0 L189.2,32.4 L189.5,30.6 L190.1,28.8 L191.0,27.2 L192.1,25.8 L193.4,24.7 L194.7,24.0 L196.1,23.8 L197.3,24.0 L198.3,24.7 L199.0,25.8 L199.4,27.2 L199.5,28.8 L199.2,30.6 L198.7,32.7 L197.5,37.6 L197.4,37.8 L197.2,38.5 L197.0,39.2 L196.6,40.0 L196.3,40.6 L195.9,41.3 L195.4,41.9 L194.9,42.4 L194.4,42.9 L193.9,43.4 L193.3,43.7 L192.8,44.0 L192.2,44.3 L191.6,44.4 L191.1,44.5 L190.6,44.5 L190.1,44.4 L189.6,44.2 L189.1,44.0 L188.7,43.7 L188.4,43.3 L188.1,42.8 L187.8,42.3 L187.6,41.8 L187.5,41.1" fill="none" stroke="#000" stroke-width="2.6" stroke-linecap="round" stroke-linejoin="round"/>
<line x1="185.3" y1="48.4" x2="201.5" y2="48.4" stroke="#000" stroke-width="3.3" stroke-linecap="round"/>
<path d="M271.0,33.2 L271.3,32.5 L271.6,31.8 L272.1,31.1 L272.6,30.5 L273.2,30.0 L273.9,29.5 L274.6,29.1 L275.3,28.7 L276.0,28.5 L276.7,28.4 L277.4,28.3 L278.1,28.3 L278.8,28.5 L279.4,28.7 L280.0,29.1 L280.5,29.5 L280.9,29.9 L281.2,30.5 L281.4,31.1 L281.5,31.8 L281.6,32.5 L281.5,33.2 L281.3,33.9 L281.1,34.6 L274.5,42.2 L266.8,50.7 L277.6,50.7" fill="none" stroke="#000" stroke-width="2.6" stroke-linecap="round" stroke-linejoin="round"/>
<line x1="267.0" y1="53.4" x2="282.0" y2="53.4" stroke="#000" stroke-width="3.3" stroke-linecap="round"/>
<path d="M394.4,32.4 L393.8,34.2 L392.9,35.8 L391.8,37.2 L390.5,38.3 L389.2,39.0 L387.9,39.2 L386.7,39.0 L385.7,38.3 L384.9,37.2 L384.5,35.8 L384.4,34.2 L384.7,32.4 L385.3,30.6 L386.2,29.0 L387.3,27.6 L388.6,26.5 L389.9,25.8 L391.3,25.6 L392.5,25.8 L393.5,26.5 L394.2,27.6 L394.6,29.0 L394.7,30.6 L394.4,32.4 L393.9,34.5 L392.7,39.4 L392.6,39.6 L392.4,40.3 L392.2,41.0 L391.8,41.8 L391.5,42.4 L391.1,43.1 L390.6,43.7 L390.1,44.2 L389.6,44.7 L389.1,45.2 L388.5,45.5 L388.0,45.8 L387.4,46.1 L386.8,46.2 L386.3,46.3 L385.8,46.3 L385.3,46.2 L384.8,46.0 L384.3,45.8 L383.9,45.5 L383.6,45.1 L383.3,44.6 L383.0,44.1 L382.8,43.6 L382.7,42.9" fill="none" stroke="#000" stroke-width="2.6" stroke-linecap="round" stroke-linejoin="round"/>
<line x1="380.4" y1="51.0" x2="397.3" y2="51.0" stroke="#000" stroke-width="3.3" stroke-linecap="round"/>
<path d="M436.2,69.0 L424.0,83.0 L434.6,83.0 M435.1,73.3 L430.5,89.3" fill="none" stroke="#000" stroke-width="2.6" stroke-linecap="round" stroke-linejoin="round"/>
<line x1="421.7" y1="93.8" x2="438.4" y2="93.8" stroke="#000" stroke-width="3.3" stroke-linecap="round"/>
<path d="M476.8,68.9 L483.4,64.6 L478.3,84.8" fill="none" stroke="#000" stroke-width="2.6" stroke-linecap="round" stroke-linejoin="round"/>
<line x1="470.5" y1="89.0" x2="487.3" y2="89.0" stroke="#000" stroke-width="3.3" stroke-linecap="round"/>
<path d="M597.4,34.5 L596.8,36.3 L595.9,37.9 L594.8,39.3 L593.5,40.4 L592.2,41.1 L590.9,41.3 L589.7,41.1 L588.7,40.4 L587.9,39.3 L587.5,37.9 L587.4,36.3 L587.7,34.5 L588.3,32.7 L589.2,31.1 L590.3,29.7 L591.6,28.6 L592.9,27.9 L594.3,27.7 L595.5,27.9 L596.5,28.6 L597.2,29.7 L597.6,31.1 L597.7,32.7 L597.4,34.5 L596.9,36.6 L595.7,41.5 L595.6,41.7 L595.4,42.4 L595.2,43.1 L594.8,43.9 L594.5,44.5 L594.1,45.2 L593.6,45.8 L593.1,46.3 L592.6,46.8 L592.1,47.3 L591.5,47.6 L591.0,47.9 L590.4,48.2 L589.8,48.3 L589.3,48.4 L588.8,48.4 L588.3,48.3 L587.8,48.1 L587.3,47.9 L586.9,47.6 L586.6,47.2 L586.3,46.7 L586.0,46.2 L585.8,45.7 L585.7,45.0" fill="none" stroke="#000" stroke-width="2.6" stroke-linecap="round" stroke-linejoin="round"/>
<line x1="583.8" y1="52.7" x2="600.3" y2="52.7" stroke="#000" stroke-width="3.3" stroke-linecap="round"/>
<path d="M121.3,417.1 L121.2,416.6 L121.0,416.1 L120.8,415.7 L120.5,415.3 L120.1,414.9 L119.7,414.6 L119.3,414.4 L118.8,414.2 L118.3,414.1 L117.8,414.1 L117.3,414.1 L116.7,414.2 L116.1,414.4 L115.6,414.6 L115.0,414.9 L114.5,415.2 L114.0,415.6 L113.6,416.1 L113.1,416.6 L112.7,417.1 L112.4,417.6 L112.1,418.2 L111.9,418.8 L111.7,419.4 L109.2,429.2 L109.2,429.2 L109.8,427.6 L110.6,426.2 L111.7,424.9 L112.9,424.0 L114.2,423.3 L115.5,423.1 L116.7,423.3 L117.7,424.0 L118.4,424.9 L118.9,426.2 L119.0,427.6 L118.8,429.2 L118.2,430.7 L117.4,432.2 L116.3,433.4 L115.1,434.4 L113.8,435.0 L112.5,435.2 L111.3,435.0 L110.3,434.4 L109.6,433.4 L109.1,432.2 L109.0,430.7 L109.2,429.2" fill="none" stroke="#000" stroke-width="2.6" stroke-linecap="round" stroke-linejoin="round"/>
<line x1="105.8" y1="440.8" x2="122.3" y2="440.8" stroke="#000" stroke-width="3.3" stroke-linecap="round"/>
<path d="M629.4,475.3 L628.9,476.7 L628.1,477.9 L627.1,478.9 L625.9,479.7 L624.6,480.2 L623.3,480.4 L622.1,480.2 L621.1,479.7 L620.3,478.9 L619.8,477.9 L619.6,476.7 L619.8,475.3 L620.3,474.0 L621.0,472.8 L622.1,471.8 L623.3,471.0 L624.5,470.5 L625.8,470.3 L627.0,470.5 L628.1,471.0 L628.8,471.8 L629.3,472.8 L629.5,474.0 L629.4,475.3 M627.7,485.6 L627.1,487.2 L626.2,488.6 L625.0,489.8 L623.5,490.7 L622.0,491.3 L620.4,491.5 L619.0,491.3 L617.7,490.7 L616.7,489.8 L616.1,488.6 L615.9,487.2 L616.1,485.6 L616.7,484.1 L617.6,482.7 L618.8,481.5 L620.3,480.6 L621.8,480.0 L623.3,479.8 L624.8,480.0 L626.1,480.6 L627.0,481.5 L627.6,482.7 L627.9,484.1 L627.7,485.6" fill="none" stroke="#000" stroke-width="2.6" stroke-linecap="round" stroke-linejoin="round"/>
<line x1="613.7" y1="495.5" x2="631.3" y2="495.5" stroke="#000" stroke-width="3.3" stroke-linecap="round"/>
<path d="M559.8,527.8 L551.2,527.8 L548.3,536.2 L551.1,535.5 L552.0,535.2 L553.0,535.1 L553.9,535.3 L554.6,535.6 L555.3,536.3 L555.8,537.1 L556.1,538.0 L556.3,539.1 L556.3,540.3 L556.1,541.6 L555.7,542.9 L555.2,544.1 L554.5,545.2 L553.7,546.3 L552.8,547.1 L551.9,547.8 L550.9,548.2 L549.9,548.5 L549.0,548.5 L548.2,548.2 L547.4,547.7 L546.8,547.1 L546.4,546.2 L546.1,545.1" fill="none" stroke="#000" stroke-width="2.6" stroke-linecap="round" stroke-linejoin="round"/>
<line x1="543.8" y1="553.0" x2="561.1" y2="553.0" stroke="#000" stroke-width="3.3" stroke-linecap="round"/>
<path d="M193.9,579.6 L200.8,575.1 L195.5,596.3 M217.8,585.7 L217.3,587.4 L216.7,589.0 L216.0,590.5 L215.2,591.9 L214.3,593.2 L213.3,594.3 L212.3,595.1 L211.3,595.8 L210.3,596.2 L209.4,596.3 L208.5,596.2 L207.7,595.8 L207.0,595.1 L206.5,594.3 L206.0,593.2 L205.8,591.9 L205.6,590.5 L205.7,589.0 L205.9,587.4 L206.2,585.7 L206.7,584.0 L207.3,582.4 L208.1,580.9 L208.9,579.5 L209.8,578.2 L210.8,577.1 L211.7,576.3 L212.7,575.6 L213.7,575.2 L214.7,575.1 L215.5,575.2 L216.3,575.6 L217.0,576.3 L217.6,577.1 L218.0,578.2 L218.3,579.5 L218.4,580.9 L218.4,582.4 L218.2,584.0 L217.8,585.7" fill="none" stroke="#000" stroke-width="2.6" stroke-linecap="round" stroke-linejoin="round"/>
<line x1="186.9" y1="599.9" x2="220.2" y2="599.9" stroke="#000" stroke-width="3.3" stroke-linecap="round"/>
<path d="M248.3,629.9 L258.2,629.9 L244.1,650.7" fill="none" stroke="#000" stroke-width="2.6" stroke-linecap="round" stroke-linejoin="round"/>
<line x1="234.5" y1="655.8" x2="251.5" y2="655.8" stroke="#000" stroke-width="3.3" stroke-linecap="round"/>
<path d="M267.0,672.1 L273.7,667.7 L268.5,688.3 M291.1,667.7 L278.7,681.9 L289.5,681.9 M290.0,672.1 L285.2,688.3" fill="none" stroke="#000" stroke-width="2.6" stroke-linecap="round" stroke-linejoin="round"/>
<line x1="259.7" y1="692.4" x2="293.3" y2="692.4" stroke="#000" stroke-width="3.3" stroke-linecap="round"/>
</svg></body></html>
